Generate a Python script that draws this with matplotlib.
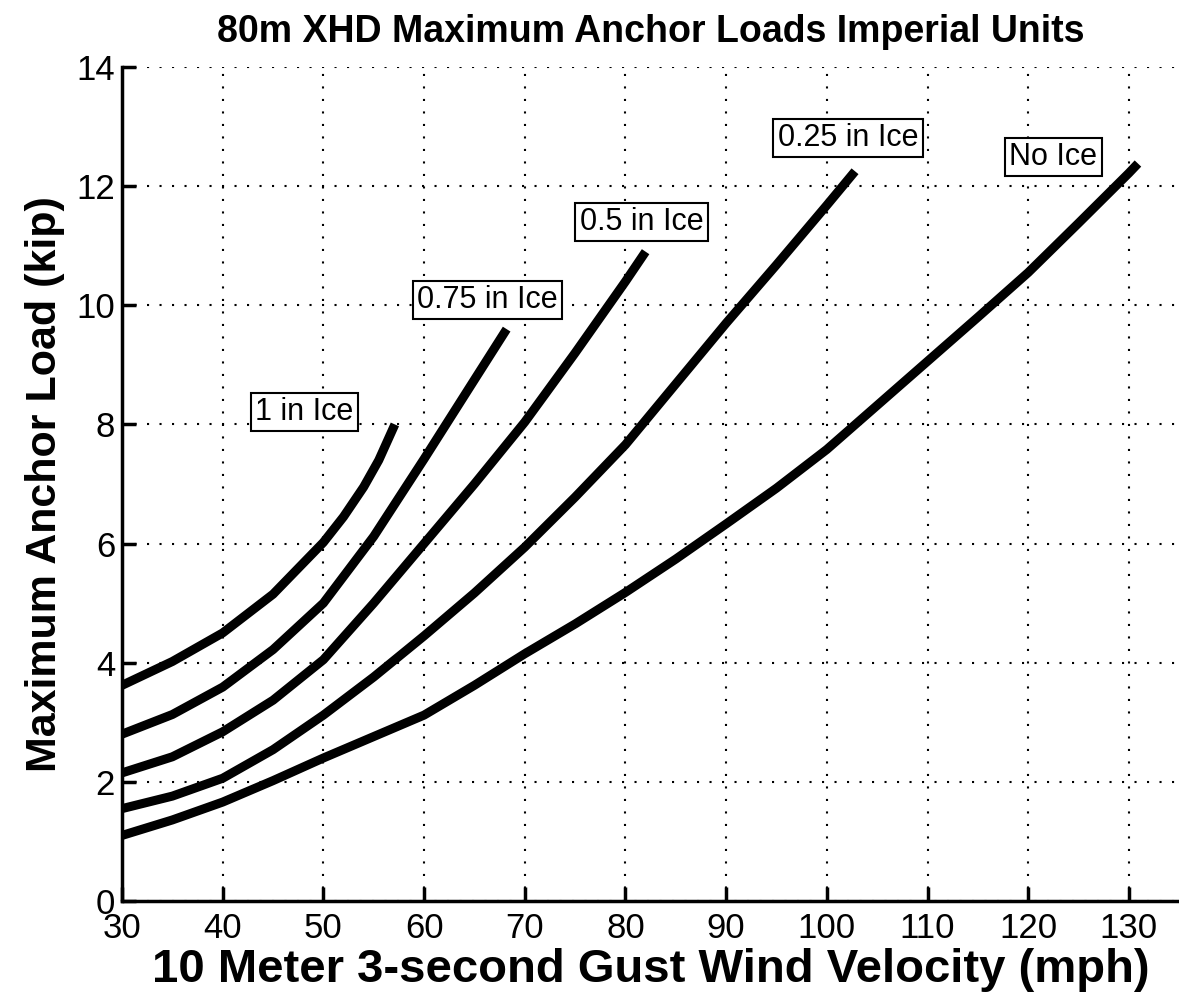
import matplotlib
matplotlib.use("Agg")
import matplotlib.pyplot as plt

# wind speed (mph) and max anchor load (kip)
v_1in = [30, 35, 40, 45, 50, 52, 54, 55.5, 57.1]
f_1in = [3.62, 4.02, 4.5, 5.15, 6.02, 6.45, 6.95, 7.4, 8.0]

v_075 = [30, 35, 40, 45, 50, 55, 60, 65, 68.2]
f_075 = [2.8, 3.13, 3.59, 4.22, 5.0, 6.12, 7.42, 8.75, 9.6]

v_05 = [30, 35, 40, 45, 50, 55, 60, 65, 70, 75, 80, 82]
f_05 = [2.15, 2.42, 2.84, 3.37, 4.05, 5.0, 6.0, 7.0, 8.04, 9.2, 10.4, 10.9]

v_025 = [30, 35, 40, 45, 50, 55, 60, 65, 70, 75, 80, 85, 90, 95, 100, 102.8]
f_025 = [1.55, 1.76, 2.06, 2.54, 3.12, 3.76, 4.45, 5.17, 5.94, 6.78, 7.66,
         8.68, 9.7, 10.68, 11.68, 12.25]

v_none = [30, 35, 40, 45, 50, 55, 60, 65, 70, 75, 80, 85, 90, 95, 100,
          105, 110, 115, 120, 125, 130, 130.9]
f_none = [1.1, 1.36, 1.66, 2.02, 2.4, 2.76, 3.12, 3.62, 4.15, 4.65, 5.18, 5.74,
          6.33, 6.93, 7.58, 8.32, 9.06, 9.8, 10.55, 11.38, 12.22, 12.38]

series = [(v_1in, f_1in), (v_075, f_075), (v_05, f_05), (v_025, f_025), (v_none, f_none)]
labels = ["1 in Ice", "0.75 in Ice", "0.5 in Ice", "0.25 in Ice", "No Ice"]
label_pos = [(48.1, 8.21), (66.3, 10.09), (81.6, 11.4), (102.1, 12.81), (122.5, 12.49)]

plt.rcParams["font.family"] = ["Liberation Sans", "DejaVu Sans"]

fig = plt.figure(figsize=(11.79, 10.08), dpi=100)
ax = fig.add_axes([0.1035, 0.1062, 0.8967, 0.8273])

for v, f in series:
    ax.plot(v, f, color="black", lw=6.5, solid_capstyle="butt", solid_joinstyle="round")

for text, (x, y) in zip(labels, label_pos):
    ax.text(x, y, text, fontsize=22, ha="center", va="center",
            bbox=dict(boxstyle="square,pad=0.14", fc="white", ec="black", lw=1.5))

ax.set_xlim(30, 135)
ax.set_ylim(0, 14)
ax.set_xticks(range(30, 131, 10))
ax.set_yticks(range(0, 15, 2))
ax.grid(True, color="black", linestyle=(0, (1, 5)), lw=1.5)
ax.spines[["top", "right"]].set_visible(False)
ax.spines[["left", "bottom"]].set_linewidth(2.5)
ax.tick_params(direction="in", length=10, width=2.5, labelsize=25, pad=5)
ax.tick_params(axis="x", pad=8)

ax.set_xlabel("10 Meter 3-second Gust Wind Velocity (mph)", fontsize=34,
              fontweight="bold", labelpad=2)
ax.set_ylabel("Maximum Anchor Load (kip)", fontsize=31, fontweight="bold", labelpad=8)
ax.set_title("80m XHD Maximum Anchor Loads Imperial Units", fontsize=27,
             fontweight="bold", pad=18)

fig.savefig("out.png", dpi=100)
